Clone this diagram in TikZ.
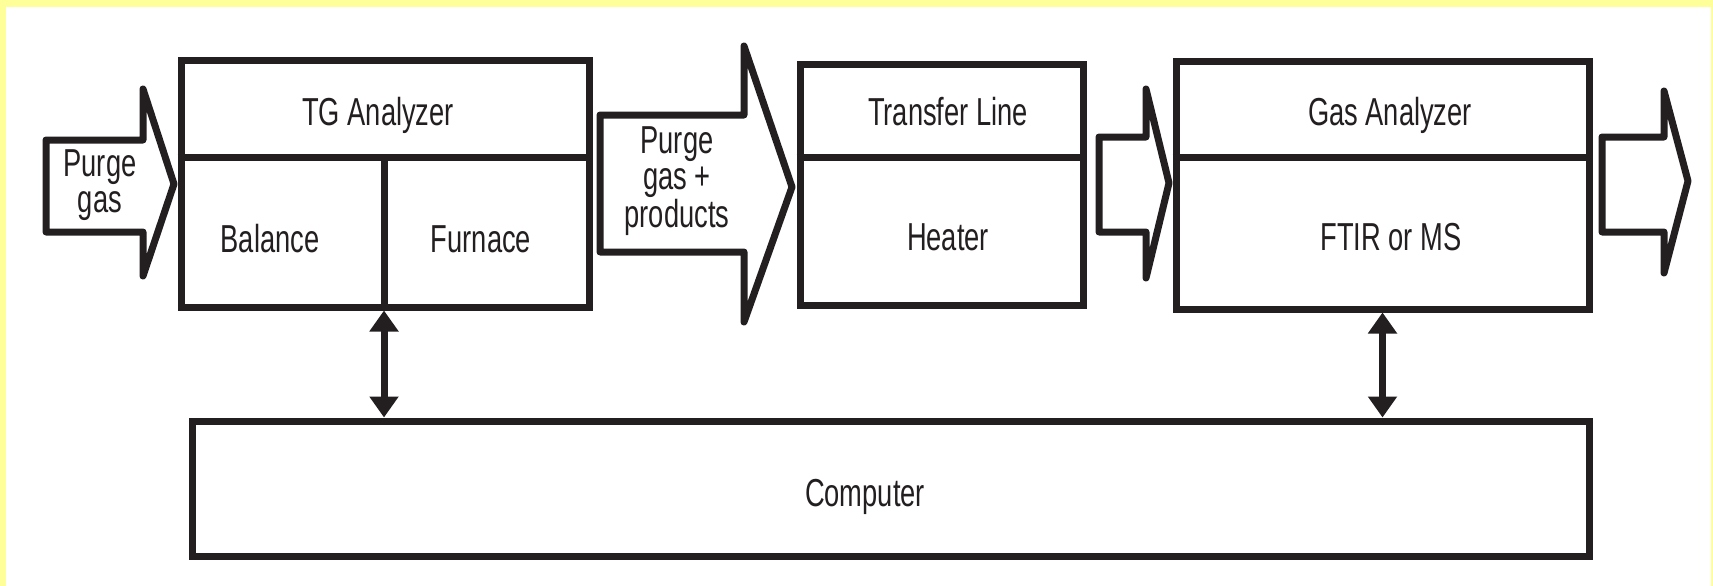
\documentclass[tikz,border=0pt]{standalone}
\usepackage{fontspec}
\setmainfont{Liberation Sans}[FakeStretch=0.7]
\usepackage{tikz}
\usetikzlibrary{arrows.meta}
\definecolor{ink}{RGB}{35,31,32}
\definecolor{frameyellow}{RGB}{255,255,153}

\tikzset{
	unit/.style={draw=ink, line width=7pt, inner sep=0pt},
	flow/.style={draw=ink, fill=white, line width=7pt, line join=round},
	link/.style={draw=ink, line width=7pt, {Triangle[width=28pt,length=21pt]}-{Triangle[width=28pt,length=21pt]}},
	lbl/.style={font=\fontsize{39}{36}\selectfont, text=ink, align=center, inner sep=0pt},
}

\begin{document}
\begin{tikzpicture}[x=1pt, y=-1pt]
			% yellow frame round the sheet
			\fill[frameyellow] (0,0) rectangle (1713,586);
			\fill[white] (6,7) rectangle (1711,586);
			\useasboundingbox (0,0) rectangle (1713,586);

			% the three units and the computer
			\node[unit, minimum width=408pt, minimum height=246pt] (tg) at (385,184) {};
			\node[unit, minimum width=283pt, minimum height=240pt] (tl) at (941.5,185) {};
			\node[unit, minimum width=413pt, minimum height=247pt] (ga) at (1382.5,185.5) {};
			\node[unit, minimum width=1397pt, minimum height=135pt] (pc) at (890.5,488.5) {};

			% header lines and the balance / furnace split
			\coordinate (split) at (384,157);
			\draw[ink, line width=7pt] (tg.west |- split) -- (tg.east |- split);
			\draw[ink, line width=7pt] (tl.west |- split) -- (tl.east |- split);
			\draw[ink, line width=7pt] (ga.west |- split) -- (ga.east |- split);
			\draw[ink, line width=7pt] (split) -- (split |- tg.south);

			% gas flow arrows
			\draw[flow] (46,140) -- (143,140) -- (143,89) -- (174,184) -- (143,276) -- (143,232) -- (46,232) -- cycle;
			\draw[flow] (600,115) -- (744,115) -- (744,46) -- (792,187) -- (744,322) -- (744,252) -- (600,252) -- cycle;
			\draw[flow] (1099,137) -- (1146,137) -- (1146,89) -- (1169,183) -- (1146,278) -- (1146,232) -- (1099,232) -- cycle;
			\draw[flow] (1602,137) -- (1664,137) -- (1664,91) -- (1688,181) -- (1664,273) -- (1664,232) -- (1602,232) -- cycle;

			% data links to the computer
			\draw[link] (split |- tg.south) -- (split |- pc.north);
			\draw[link] (ga.south) -- (ga.south |- pc.north);

			% labels
			\node[lbl] (purge) at (100,185) {Purge\\gas};
			\node[lbl] (mix) at (677,181) {Purge\\gas +\\products};
			\node[lbl, anchor=base] (tgt) at (378,125) {TG Analyzer};
			\node[lbl, anchor=base] (bal) at (270,252) {Balance};
			\node[lbl, anchor=base] (fur) at (481,252) {Furnace};
			\node[lbl, anchor=base] (tlt) at (948,125) {Transfer Line};
			\node[lbl, anchor=base] (heat) at (948,250) {Heater};
			\node[lbl, anchor=base] (gat) at (1390,125) {Gas Analyzer};
			\node[lbl, anchor=base] (ftir) at (1391,250) {FTIR or MS};
			\node[lbl, anchor=base] (pct) at (865,506) {Computer};

		\end{tikzpicture}
\end{document}
